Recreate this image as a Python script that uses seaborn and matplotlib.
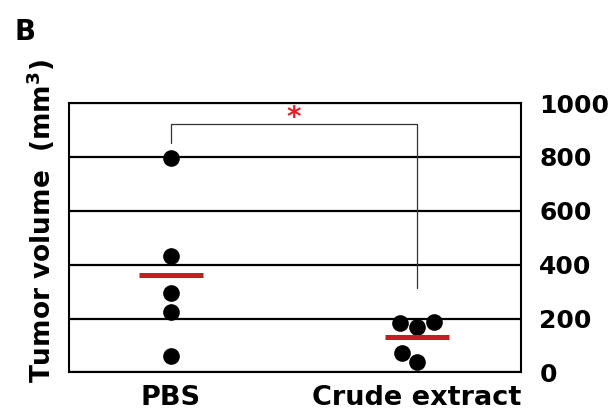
import matplotlib
matplotlib.use("Agg")
import matplotlib.pyplot as plt
import seaborn as sns
import numpy as np
import pandas as pd

# tumor volumes (mm^3)
groups = ["PBS", "Crude extract"]
pbs = [796, 432, 295, 224, 61]
crude = [183, 189, 168, 73, 40]
yticks = [0, 200, 400, 600, 800, 1000]

df = pd.DataFrame({
    "group": ["PBS"] * len(pbs) + ["Crude extract"] * len(crude),
    "volume": pbs + crude,
})

sns.set_style("white")
plt.rcParams["font.family"] = ["DejaVu Sans"]
plt.rcParams["font.weight"] = "bold"
for k in ["text.color", "axes.labelcolor", "xtick.color", "ytick.color"]:
    plt.rcParams[k] = "black"

fig = plt.figure(figsize=(6.14, 4.16), dpi=100)
ax = fig.add_axes([0.113, 0.1046, 0.736, 0.6478])

sns.swarmplot(data=df, x="group", y="volume", order=groups, color="black",
              size=12, ax=ax, zorder=3)

# mean bars
means = [np.mean(pbs), np.mean(crude)]
for i, m in enumerate(means):
    ax.hlines(m, i - 0.13, i + 0.13, color="#c41e24", lw=3.6, zorder=4)

ax.set_ylim(0, 1000)
ax.set_xlim(-0.413, 1.423)
ax.set_yticks(yticks)
ax.yaxis.tick_right()
ax.tick_params(axis="y", length=0, pad=13, labelsize=18)
ax.tick_params(axis="x", length=0, pad=9, labelsize=19.5)
for lbl in ax.get_xticklabels() + ax.get_yticklabels():
    lbl.set_fontweight("bold")

ax.grid(axis="y", color="black", lw=1.6)
ax.grid(axis="x", visible=False)
ax.set_axisbelow(True)
for sp in ax.spines.values():
    sp.set_visible(True)
    sp.set_color("black")
    sp.set_linewidth(1.5)

ax.set_xlabel("")
ax.set_ylabel("Tumor volume  (mm$^\\mathbf{3}$)", fontsize=19, fontweight="bold")
ax.yaxis.set_label_position("left")
ax.yaxis.label.set_va("center")
ax.yaxis.set_label_coords(-0.063, 0.562)

# significance bracket
ax.plot([0, 0, 1, 1], [851, 921, 921, 315], color="#333333", lw=0.9,
        clip_on=False, zorder=2)
ax.text(0.5, 945, "*", color="#e0202a", fontsize=20, fontweight="bold",
        ha="center", va="center")

fig.text(25 / 614, 1 - 32 / 416, "B", fontsize=20, fontweight="bold",
         ha="center", va="center")

fig.savefig("out.png", dpi=100)
